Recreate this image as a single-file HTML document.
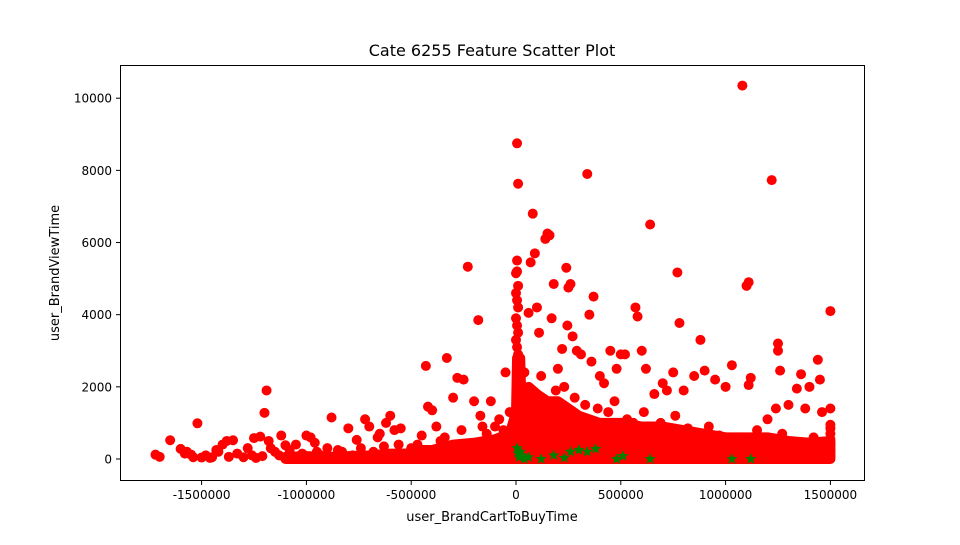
<!DOCTYPE html>
<html><head><meta charset="utf-8"><style>
body{margin:0;background:#fff;font-family:"Liberation Sans","DejaVu Sans",sans-serif}
svg text{font-family:"DejaVu Sans","Liberation Sans",sans-serif;fill:#000}
</style></head><body>
<svg id="chart" width="960" height="540" viewBox="0 0 960 540">
<rect width="960" height="540" fill="#fff"/>
<text x="492" y="56" font-size="16" text-anchor="middle">Cate 6255 Feature Scatter Plot</text>
<g id="marks"></g>
<rect x="120.5" y="65.5" width="744" height="415" fill="none" stroke="#000" stroke-width="1"/>
<g id="axes"></g>
<text x="492" y="521" font-size="13" text-anchor="middle">user_BrandCartToBuyTime</text>
<text transform="translate(59,273) rotate(-90)" font-size="13" text-anchor="middle">user_BrandViewTime</text>
</svg>
<script>
const xTicks=[-1500000,-1000000,-500000,0,500000,1000000,1500000];
const yTicks=[0,2000,4000,6000,8000,10000];
// red points (x in thousands, y)
const redX=[-1720,-1700,-1650,-1600,-1570,-1550,-1520,-1500,-1450,-1420,-1400,-1380,-1350,-1300,-1280,-1250,-1220,-1200,-1190,-1180,-1150,-1120,-1100,-1050,-1000,-980,-950,-900,-880,-850,-800,-760,-720,-700,-680,-650,-620,-600,-580,-550,-500,-450,-430,-420,-400,-380,-330,-300,-280,-250,-230,-200,-180,-170,-120,-100,-50,-30,
5,10,5,0,5,10,0,5,10,0,5,10,0,5,10,
80,90,70,60,100,110,140,150,160,170,180,200,220,240,245,250,260,270,290,310,340,350,360,370,400,420,450,480,500,520,570,580,600,620,640,660,700,720,750,770,780,800,850,880,900,950,1000,1030,1080,1100,1110,1110,1120,1200,1220,1240,1250,1250,1260,1300,1340,1360,1380,1400,1440,1450,1460,1500,1500,1500,1500,1500,1500,1500,1500,1500,
-1580,-1540,-1480,-1460,-1430,-1370,-1330,-1260,-1240,-1210,-1170,-1130,-1080,-1040,-1020,-960,-930,-870,-830,-780,-740,-660,-630,-560,-530,-480,-470,-360,-340,-260,-160,-140,-80,-60,
40,120,190,230,280,330,390,440,470,530,560,610,650,690,730,760,820,860,920,970,1060,1150,1180,1270,1330,1420,1480];
const redY=[120,60,520,280,200,120,990,40,50,200,400,500,520,50,300,580,620,1280,1900,500,200,650,380,400,650,600,200,300,1150,250,850,530,1100,900,200,700,1000,1200,800,850,300,650,2580,1450,1350,900,2800,1700,2250,2200,5330,1600,3850,1200,1600,900,2400,1300,
8750,7630,5500,5150,5200,4800,4600,4400,4200,3900,3700,3500,3300,3100,2900,
6800,5700,5450,4050,4200,3500,6100,6250,6200,3900,4850,2500,3050,5300,3700,4750,4850,3400,3000,2900,7900,4000,2700,4500,2300,2100,3000,2500,2900,2900,4200,3950,3000,2500,6500,1800,2100,1900,2400,5170,3770,1900,2300,3300,2450,2200,2000,2600,10350,4800,4900,2050,2250,1100,7730,1400,3200,3000,2450,1500,1950,2350,1400,2000,2750,2200,1300,4100,1400,950,850,700,550,400,250,100,
150,50,100,30,250,60,150,100,30,80,300,100,250,50,150,450,100,60,200,100,300,600,350,400,150,100,400,500,600,800,900,700,1100,800,
2400,2300,1900,2000,1700,1500,1400,1300,1600,1100,1000,1300,900,1000,800,1200,850,700,900,650,600,800,550,700,450,600,400];
// dense-band envelope (x in thousands, top y)
const densX=[-1100,-1000,-900,-800,-700,-600,-500,-450,-400,-300,-200,-100,-30,0,5,20,25,60,100,150,200,250,300,350,400,500,600,700,800,900,1000,1100,1200,1300,1400,1500];
const densY=[60,80,60,80,100,150,150,250,250,400,450,550,700,1300,2800,2800,1800,2000,1800,1600,1600,1400,1200,1100,1000,1000,900,900,800,700,600,600,600,500,450,500];
// green stars
const greenX=[5,10,15,20,30,40,60,120,180,230,260,300,340,380,480,510,640,1030,1120];
const greenY=[300,150,50,200,100,0,50,0,100,30,200,250,200,280,0,80,0,0,0];

const L=120,R=864,T=66,B=481;
const xs=v=>516+v/500000*104.8;
const ys=v=>459-v/1000*36.08;
const NS="http://www.w3.org/2000/svg";
const marks=document.getElementById('marks'),axes=document.getElementById('axes');
function mk(t,a,p){const e=document.createElementNS(NS,t);for(const k in a)e.setAttribute(k,a[k]);p.appendChild(e);return e;}

let d='M'+xs(densX[0]*1000)+','+ys(0);
densX.forEach((x,i)=>{d+=' L'+xs(x*1000)+','+ys(densY[i]);});
d+=' L'+xs(densX[densX.length-1]*1000)+','+ys(0)+' Z';
const area=mk('path',{d:d,fill:'#ff0000',stroke:'#ff0000','stroke-width':10,'stroke-linejoin':'round'},marks);



redX.forEach((x,i)=>{
  const c=mk('circle',{cx:xs(x*1000),cy:ys(redY[i]),r:5,fill:'#ff0000'},marks);
  
  
});
function star(cx,cy,r){let p=[];for(let k=0;k<10;k++){const a=-Math.PI/2+k*Math.PI/5;const rr=k%2?r*0.42:r;p.push((cx+rr*Math.cos(a)).toFixed(1)+','+(cy+rr*Math.sin(a)).toFixed(1));}return p.join(' ');}
greenX.forEach((x,i)=>{
  const s=mk('polygon',{points:star(xs(x*1000),ys(greenY[i]),6),fill:'#008000'},marks);
  
  
});
xTicks.forEach(v=>{
  const x=xs(v);
  const l=mk('line',{x1:x,x2:x,y1:B,y2:B+4,stroke:'#000'},axes);
  
  
  const t=mk('text',{x:x,y:B+18,'font-size':12,'text-anchor':'middle'},axes);
  t.textContent=v.toString();
  
  
});
yTicks.forEach(v=>{
  const y=ys(v);
  const l=mk('line',{x1:L-4,x2:L,y1:y,y2:y,stroke:'#000'},axes);
  
  
  const t=mk('text',{x:L-8,y:y+4.5,'font-size':12,'text-anchor':'end'},axes);
  t.textContent=v.toString();
  
  
});
</script>
</body></html>
